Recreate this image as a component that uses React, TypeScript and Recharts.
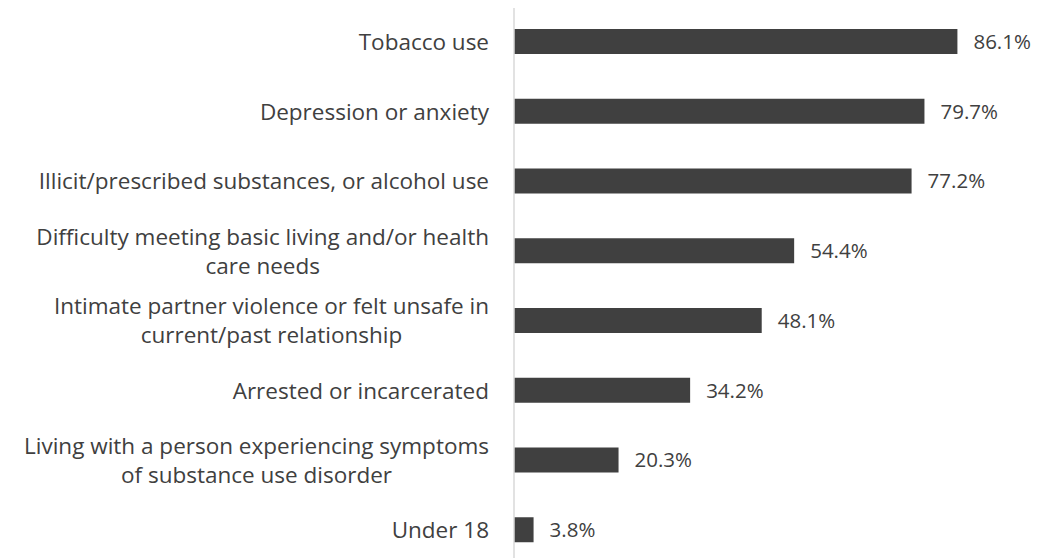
import { BarChart, Bar, XAxis, YAxis, LabelList } from "recharts";

const categories = [
  "Tobacco use",
  "Depression or anxiety",
  "Illicit/prescribed substances, or alcohol use",
  "Difficulty meeting basic living and/or health\ncare needs",
  "Intimate partner violence or felt unsafe in\ncurrent/past relationship",
  "Arrested or incarcerated",
  "Living with a person experiencing symptoms\nof substance use disorder",
  "Under 18",
];
const percents = [86.1, 79.7, 77.2, 54.4, 48.1, 34.2, 20.3, 3.8];

const data = categories.map((name, i) => ({ name, pct: percents[i] }));

const FONT = "'Open Sans', sans-serif";
const FONT_SIZE = 22.5;
const TEXT = "#404040";

let ctx: CanvasRenderingContext2D | null = null;
function measure(s: string) {
  if (!ctx) ctx = document.createElement("canvas").getContext("2d");
  if (!ctx) return s.length * FONT_SIZE * 0.53;
  ctx.font = `${FONT_SIZE}px ${FONT}`;
  return ctx.measureText(s).width;
}

function CategoryTick(props: any) {
  const { x, y, payload } = props;
  const lines: string[] = String(payload.value).split("\n");
  const maxW = Math.max(...lines.map(measure));
  const cx = x - maxW / 2;
  const lh = 29;
  const top = y - ((lines.length - 1) * lh) / 2;
  return (
    <g>
      {lines.map((l, i) => (
        <text
          key={i}
          x={cx}
          y={top + i * lh}
          dy="0.35em"
          textAnchor="middle"
          fill={TEXT}
          fontFamily={FONT}
          fontSize={FONT_SIZE}
        >
          {l}
        </text>
      ))}
    </g>
  );
}

export default function App() {
  return (
    <div style={{ margin: "-8px 0 0 -8px", width: 1052, height: 566, overflow: "hidden" }}>
      <BarChart
        width={1052}
        height={565}
        data={data}
        layout="vertical"
        margin={{ top: 7, right: 23, bottom: 0, left: 0 }}
      >
        <XAxis type="number" domain={[0, 100]} hide />
        <YAxis
          type="category"
          dataKey="name"
          width={514}
          tickLine={false}
          tickSize={0}
          tickMargin={25}
          axisLine={{ stroke: "#d9d9d9", strokeWidth: 1.5 }}
          tick={<CategoryTick />}
          interval={0}
        />
        <Bar dataKey="pct" fill="#404040" barSize={25} isAnimationActive={false}>
          <LabelList
            dataKey="pct"
            position="right"
            offset={16}
            formatter={(v: any) => `${Number(v).toFixed(1)}%`}
            style={{ fill: TEXT, fontFamily: FONT, fontSize: 20.5 }}
          />
        </Bar>
      </BarChart>
    </div>
  );
}
